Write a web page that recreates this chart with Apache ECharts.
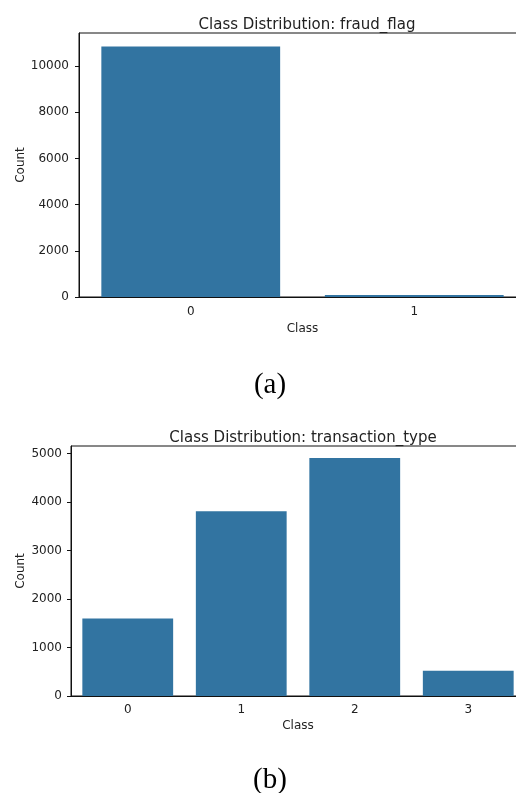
<!DOCTYPE html>
<html>
<head>
<meta charset="utf-8">
<script src="https://cdn.jsdelivr.net/npm/echarts@6/dist/echarts.min.js"></script>
<style>
  html, body { margin: 0; padding: 0; background: #fff; overflow: hidden; }
  /* the plot areas run a few pixels past the right edge of the page */
  #chart { width: 526px; height: 793px; }
</style>
</head>
<body>
<div id="chart"></div>
<script>
// Class counts for the two target columns
const fraudClasses = ['0', '1'];
const fraudCounts = [10850, 90];
const typeClasses = ['0', '1', '2', '3'];
const typeCounts = [1600, 3810, 4910, 520];

const barColor = '#3274a1';
const ink = '#222';
const font = 'DejaVu Sans';

function catAxis(gridIndex, data, labelMargin, nameGap) {
  return {
    type: 'category', gridIndex, data,
    name: 'Class', nameLocation: 'middle', nameGap,
    nameTextStyle: { fontFamily: font, fontSize: 12, color: ink },
    axisLine: { lineStyle: { color: '#111', width: 1 } },
    axisTick: { alignWithLabel: true, length: 4, lineStyle: { color: '#111' } },
    axisLabel: { fontFamily: font, fontSize: 12, color: ink, margin: labelMargin },
    splitLine: { show: false }
  };
}

function valAxis(gridIndex, max, interval, labelMargin, nameGap) {
  return {
    type: 'value', gridIndex, min: 0, max, interval,
    name: 'Count', nameLocation: 'middle', nameGap, nameRotate: 90, nameMoveOverlap: false,
    nameTextStyle: { fontFamily: font, fontSize: 12, color: ink },
    axisLine: { show: true, lineStyle: { color: '#111', width: 1 } },
    axisTick: { show: true, length: 4, lineStyle: { color: '#111' } },
    axisLabel: { fontFamily: font, fontSize: 12, color: ink, margin: labelMargin,
                 showMaxLabel: false, formatter: v => String(v) },
    splitLine: { show: false }
  };
}

const chart = echarts.init(document.getElementById('chart'), null, { renderer: 'canvas' });
chart.setOption({
  animation: false,
  backgroundColor: '#fff',
  title: [
    { text: 'Class Distribution: fraud_flag', left: 302, top: 13, textAlign: 'center',
      textStyle: { fontFamily: font, fontSize: 15, fontWeight: 'normal', color: ink } },
    { text: 'Class Distribution: transaction_type', left: 298, top: 426, textAlign: 'center',
      textStyle: { fontFamily: font, fontSize: 15, fontWeight: 'normal', color: ink } }
  ],
  grid: [
    { left: 79, top: 33, right: 0, bottom: 793 - 297, show: true, borderColor: '#111', borderWidth: 1, backgroundColor: 'transparent' },
    { left: 71, top: 446, right: 1, bottom: 793 - 696, show: true, borderColor: '#111', borderWidth: 1, backgroundColor: 'transparent' }
  ],
  xAxis: [catAxis(0, fraudClasses, 9, 26), catAxis(1, typeClasses, 8, 24)],
  yAxis: [valAxis(0, 11430, 2000, 10, 52), valAxis(1, 5155, 1000, 9, 44)],
  series: [
    { type: 'bar', xAxisIndex: 0, yAxisIndex: 0, data: fraudCounts, barCategoryGap: '20%',
      itemStyle: { color: barColor } },
    { type: 'bar', xAxisIndex: 1, yAxisIndex: 1, data: typeCounts, barCategoryGap: '20%',
      itemStyle: { color: barColor } }
  ],
  graphic: [
    { type: 'text', x: 270, y: 385, style: { text: '(a)', fontFamily: 'Liberation Serif', fontSize: 29,
      fill: '#000', textAlign: 'center', textVerticalAlign: 'middle' } },
    { type: 'text', x: 270, y: 780, style: { text: '(b)', fontFamily: 'Liberation Serif', fontSize: 29,
      fill: '#000', textAlign: 'center', textVerticalAlign: 'middle' } }
  ]
});
</script>
</body>
</html>
